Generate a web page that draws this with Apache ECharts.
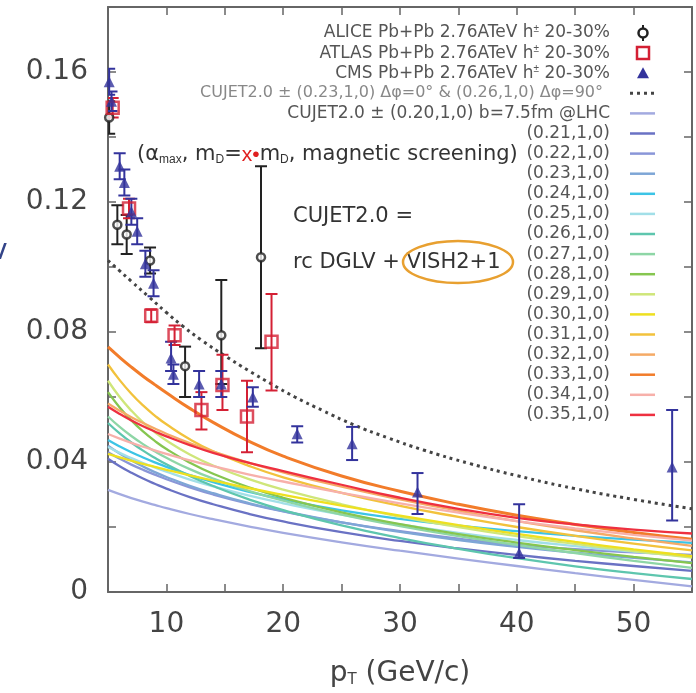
<!DOCTYPE html>
<html><head><meta charset="utf-8">
<script src="https://cdn.jsdelivr.net/npm/echarts@6/dist/echarts.min.js"></script>
<style>html,body{margin:0;padding:0;background:#fff}#c{width:696px;height:693px}</style>
</head><body><div id="c"></div>
<script>
// ---- data ----
const pT = [5,6,7,8,9,10,12,14,17,20,25,30,35,40,45,50,55];
const c020 = [0.0314,0.0301,0.0289,0.0278,0.0268,0.0258,0.0240,0.0224,0.0202,0.0182,0.0153,0.0127,0.0103,0.0080,0.0058,0.0037,0.0017];
const c021 = [0.0410,0.0387,0.0367,0.0349,0.0333,0.0318,0.0292,0.0270,0.0241,0.0217,0.0184,0.0157,0.0134,0.0114,0.0096,0.0080,0.0065];
const c022 = [0.0430,0.0410,0.0392,0.0376,0.0361,0.0347,0.0322,0.0300,0.0272,0.0248,0.0214,0.0187,0.0164,0.0145,0.0132,0.0122,0.0114];
const c023 = [0.0450,0.0426,0.0405,0.0386,0.0369,0.0354,0.0327,0.0304,0.0274,0.0249,0.0214,0.0185,0.0160,0.0139,0.0121,0.0105,0.0091];
const c024 = [0.0468,0.0448,0.0430,0.0414,0.0399,0.0385,0.0360,0.0338,0.0309,0.0285,0.0251,0.0225,0.0204,0.0187,0.0173,0.0161,0.0151];
const c025 = [0.0446,0.0428,0.0412,0.0397,0.0383,0.0370,0.0346,0.0325,0.0297,0.0273,0.0238,0.0208,0.0182,0.0160,0.0141,0.0124,0.0109];
const c026 = [0.0520,0.0488,0.0460,0.0435,0.0413,0.0393,0.0357,0.0326,0.0286,0.0252,0.0205,0.0166,0.0133,0.0104,0.0079,0.0058,0.0040];
const c027 = [0.0540,0.0508,0.0480,0.0455,0.0433,0.0413,0.0378,0.0349,0.0312,0.0281,0.0238,0.0203,0.0172,0.0145,0.0120,0.0096,0.0074];
const c028 = [0.0615,0.0568,0.0528,0.0494,0.0465,0.0440,0.0398,0.0364,0.0323,0.0290,0.0245,0.0209,0.0178,0.0152,0.0129,0.0108,0.0089];
const c029 = [0.0650,0.0600,0.0558,0.0522,0.0492,0.0466,0.0423,0.0389,0.0348,0.0315,0.0270,0.0232,0.0200,0.0172,0.0148,0.0126,0.0106];
const c030 = [0.0425,0.0414,0.0404,0.0394,0.0385,0.0376,0.0359,0.0343,0.0320,0.0299,0.0266,0.0235,0.0206,0.0179,0.0154,0.0131,0.0110];
const c031 = [0.0700,0.0652,0.0610,0.0574,0.0543,0.0516,0.0470,0.0433,0.0389,0.0353,0.0305,0.0265,0.0231,0.0200,0.0173,0.0149,0.0128];
const c032 = [0.0580,0.0558,0.0538,0.0520,0.0503,0.0487,0.0458,0.0432,0.0398,0.0368,0.0324,0.0285,0.0250,0.0218,0.0190,0.0165,0.0142];
const c033 = [0.0754,0.0722,0.0692,0.0664,0.0638,0.0613,0.0565,0.0522,0.0465,0.0418,0.0357,0.0310,0.0270,0.0236,0.0208,0.0183,0.0162];
const c034 = [0.0486,0.0472,0.0459,0.0447,0.0436,0.0425,0.0405,0.0387,0.0362,0.0340,0.0305,0.0273,0.0244,0.0218,0.0196,0.0176,0.0158];
const c035 = [0.0570,0.0548,0.0528,0.0510,0.0494,0.0479,0.0452,0.0428,0.0398,0.0372,0.0330,0.0290,0.0256,0.0228,0.0208,0.0192,0.0180];
const curves = [c020,c021,c022,c023,c024,c025,c026,c027,c028,c029,c030,c031,c032,c033,c034,c035];
const curveLabels = ['CUJET2.0 \u00b1 (0.20,1,0) b=7.5fm @LHC','(0.21,1,0)','(0.22,1,0)','(0.23,1,0)','(0.24,1,0)','(0.25,1,0)','(0.26,1,0)','(0.27,1,0)','(0.28,1,0)','(0.29,1,0)','(0.30,1,0)','(0.31,1,0)','(0.32,1,0)','(0.33,1,0)','(0.34,1,0)','(0.35,1,0)'];
const curveColors = ['#a3aae0','#6a72c4','#8a96d8','#7ea6d6','#3cc4e6','#a2dfe8','#5ec6ae','#8ed6a6','#86c650','#cfe67a','#eee020','#f2c23c','#f5aa66','#f27c2a','#f7b0aa','#ee3040'];

const dphiPT = [5,6,7,8.5,10,11.4,13,15,17,19,21,23.4,26,29,32,36,40,45,50,55];
const dphiV2 = [0.1020,0.0988,0.0956,0.0908,0.0860,0.0818,0.0775,0.0727,0.0682,0.0640,0.0600,0.0558,0.0515,0.0474,0.0437,0.0395,0.0358,0.0318,0.0285,0.0256];

// [pT, v2, low, high]
const alice = [[5.1,0.146,0.141,0.151],[5.8,0.113,0.107,0.119],[6.6,0.110,0.104,0.116],[8.6,0.102,0.098,0.106],[11.6,0.0695,0.060,0.0755],[14.7,0.079,0.064,0.096],[18.1,0.103,0.075,0.131]];
const atlas = [[5.4,0.149,0.146,0.152],[6.8,0.118,0.115,0.121],[8.7,0.085,0.083,0.087],[10.7,0.079,0.076,0.082],[13.0,0.056,0.050,0.0615],[14.8,0.0637,0.056,0.073],[16.9,0.054,0.043,0.065],[19.0,0.077,0.062,0.0917]];
const cms = [[5.1,0.157,0.153,0.161],[5.3,0.151,0.148,0.154],[6.0,0.131,0.127,0.135],[6.4,0.126,0.122,0.130],[7.0,0.117,0.113,0.121],[7.5,0.111,0.107,0.115],[8.2,0.101,0.097,0.105],[8.9,0.095,0.091,0.099],[10.4,0.072,0.068,0.077],[10.6,0.067,0.064,0.070],[12.8,0.064,0.060,0.068],[14.7,0.064,0.060,0.068],[17.4,0.060,0.057,0.063],[21.2,0.0487,0.046,0.051],[25.9,0.0456,0.0406,0.0508],[31.5,0.0308,0.024,0.0366],[40.2,0.012,0.0105,0.027],[53.3,0.0385,0.022,0.056]];

const xTicks = {min:5, max:55, interval:5};
const yTicks = {min:0, max:0.18, interval:0.02};

// ---- chart ----
const FONT = 'DejaVu Sans, sans-serif';
const chart = echarts.init(document.getElementById('c'), null, {renderer:'canvas'});
const axisLine = {show:true, onZero:false, lineStyle:{color:'#666', width:2}};
const tick = {show:true, inside:true, length:8, lineStyle:{color:'#666', width:1.5}};

function errSeries(name, data, color){
  return {type:'custom', name, data, z:5, clip:true, encode:{x:0,y:1},
    renderItem:(params, api)=>{
      const x=api.value(0), lo=api.value(2), hi=api.value(3);
      const p1=api.coord([x,lo]), p2=api.coord([x,hi]); const w=6;
      const st={stroke:color,lineWidth:2};
      return {type:'group', children:[
        {type:'line', shape:{x1:p1[0],y1:p1[1],x2:p2[0],y2:p2[1]}, style:st},
        {type:'line', shape:{x1:p1[0]-w,y1:p1[1],x2:p1[0]+w,y2:p1[1]}, style:st},
        {type:'line', shape:{x1:p2[0]-w,y1:p2[1],x2:p2[0]+w,y2:p2[1]}, style:st}]};
    }};
}

const series = [];
curves.forEach((c,i)=>{
  series.push({type:'line', name:curveLabels[i], data:pT.map((x,j)=>[x,c[j]]), smooth:0.5, symbol:'none',
    lineStyle:{color:curveColors[i], width: i===13 ? 3 : 2.3}, z:2});
});
series.push({type:'line', name:'CUJET2.0 dphi', data:dphiPT.map((x,j)=>[x,dphiV2[j]]), smooth:0.5, symbol:'none',
  lineStyle:{color:'#444', width:3, type:[3,4]}, z:3});
series.push(errSeries('ALICE err', alice, '#222'));
series.push(errSeries('ATLAS err', atlas, '#d42034'));
series.push(errSeries('CMS err', cms, '#33339c'));
series.push({type:'scatter', name:'ALICE', data:alice.map(d=>[d[0],d[1]]), symbol:'circle', symbolSize:8,
  itemStyle:{color:'#fff', borderColor:'#222', borderWidth:2.5}, z:6});
series.push({type:'scatter', name:'ATLAS', data:atlas.map(d=>[d[0],d[1]]), symbol:'rect', symbolSize:12,
  itemStyle:{color:'rgba(255,255,255,0)', borderColor:'#d42034', borderWidth:2.5}, z:6});
series.push({type:'scatter', name:'CMS', data:cms.map(d=>[d[0],d[1]]), symbol:'triangle', symbolSize:11,
  itemStyle:{color:'#33339c'}, z:6});

// legend (drawn as graphic)
const rowY = i => 33 + i*20.1;
const LX = 610, SX = 643;
const g = [];
const legTexts = [
  {t:'ALICE Pb+Pb 2.76ATeV h{s|\u00b1} 20-30%'},
  {t:'ATLAS Pb+Pb 2.76ATeV h{s|\u00b1} 20-30%'},
  {t:'CMS Pb+Pb 2.76ATeV h{s|\u00b1} 20-30%'},
  {t:'CUJET2.0 \u00b1 (0.23,1,0) \u0394\u03c6=0\u00b0 & (0.26,1,0) \u0394\u03c6=90\u00b0', x:603, fill:'#888', fs:16}
];
curveLabels.forEach(l=>legTexts.push({t:l}));
legTexts.forEach((o,i)=>{
  g.push({type:'text', z:100, style:{text:o.t, x:o.x||LX, y:rowY(i), align:'right', verticalAlign:'middle',
    font:(o.fs||17)+'px '+FONT, fill:o.fill||'#555', rich:{s:{fontSize:10, verticalAlign:'top', padding:[0,0,8,0], fill:o.fill||'#555'}}}});
});
g.push({type:'line', z:100, shape:{x1:SX,y1:rowY(0)-8,x2:SX,y2:rowY(0)+8}, style:{stroke:'#222',lineWidth:2}});
g.push({type:'circle', z:101, shape:{cx:SX,cy:rowY(0),r:4.5}, style:{fill:'#fff',stroke:'#222',lineWidth:2.5}});
g.push({type:'rect', z:100, shape:{x:SX-6,y:rowY(1)-6,width:12,height:12}, style:{fill:'#fff',stroke:'#d42034',lineWidth:2.5}});
g.push({type:'polygon', z:100, shape:{points:[[SX,rowY(2)-6],[SX-6,rowY(2)+5],[SX+6,rowY(2)+5]]}, style:{fill:'#33339c'}});
g.push({type:'line', z:100, shape:{x1:630,y1:rowY(3),x2:657,y2:rowY(3)}, style:{stroke:'#444',lineWidth:3,lineDash:[3,4]}});
curveColors.forEach((c,i)=>{
  g.push({type:'line', z:100, shape:{x1:630,y1:rowY(4+i),x2:655,y2:rowY(4+i)}, style:{stroke:c,lineWidth:2.5}});
});
// annotations
g.push({type:'text', z:100, style:{text:'(\u03b1{s|max}, m{s|D}={r|x\u2022}m{s|D}, magnetic screening)', x:137, y:155,
  verticalAlign:'middle', font:'21px '+FONT, fill:'#333',
  rich:{s:{fontSize:12, verticalAlign:'bottom', padding:[9,0,0,0], fill:'#333'}, r:{fill:'#e02020', fontSize:21}}}});
g.push({type:'text', z:100, style:{text:'CUJET2.0 =', x:293, y:217, verticalAlign:'middle', font:'21px '+FONT, fill:'#333'}});
g.push({type:'text', z:100, style:{text:'rc DGLV + VISH2+1', x:293, y:263, verticalAlign:'middle', font:'21px '+FONT, fill:'#333'}});
g.push({type:'ellipse', z:100, shape:{cx:458,cy:262,rx:55,ry:21}, style:{fill:'none',stroke:'#e8a030',lineWidth:2.5}});
g.push({type:'text', z:100, style:{text:'v', x:-9, y:252, verticalAlign:'middle', font:'28px '+FONT, fill:'#334488'}});

const option = {
  backgroundColor:'#fff',
  animation:false,
  grid:{left:108, right:4, top:7, bottom:98, containLabel:false},
  xAxis:[
    {type:'value', min:xTicks.min, max:xTicks.max, interval:xTicks.interval, position:'bottom', axisLine, axisTick:tick,
     splitLine:{show:false},
     axisLabel:{formatter:v=> (v%10===0 ? String(v) : ''), fontSize:28, color:'#444', margin:19, fontFamily:FONT},
     name:'{a|p}{s|T}{a| (GeV/c)}', nameLocation:'middle', nameGap:68,
     nameTextStyle:{rich:{a:{fontSize:28, color:'#444', fontFamily:FONT}, s:{fontSize:15, color:'#444', verticalAlign:'bottom', padding:[11,0,0,0], fontFamily:FONT}}}},
    {type:'value', min:xTicks.min, max:xTicks.max, interval:xTicks.interval, position:'top', axisLine, axisTick:tick,
     splitLine:{show:false}, axisLabel:{show:false}}
  ],
  yAxis:[
    {type:'value', min:yTicks.min, max:yTicks.max, interval:yTicks.interval, position:'left', axisLine, axisTick:tick,
     splitLine:{show:false},
     axisLabel:{formatter:v=> (Math.round(v*100)%4===0 ? String(+v.toFixed(2)) : ''), fontSize:28, color:'#444', margin:20, fontFamily:FONT}},
    {type:'value', min:yTicks.min, max:yTicks.max, interval:yTicks.interval, position:'right', axisLine, axisTick:tick,
     splitLine:{show:false}, axisLabel:{show:false}}
  ],
  series,
  graphic:{elements:g}
};
chart.setOption(option);
</script></body></html>
